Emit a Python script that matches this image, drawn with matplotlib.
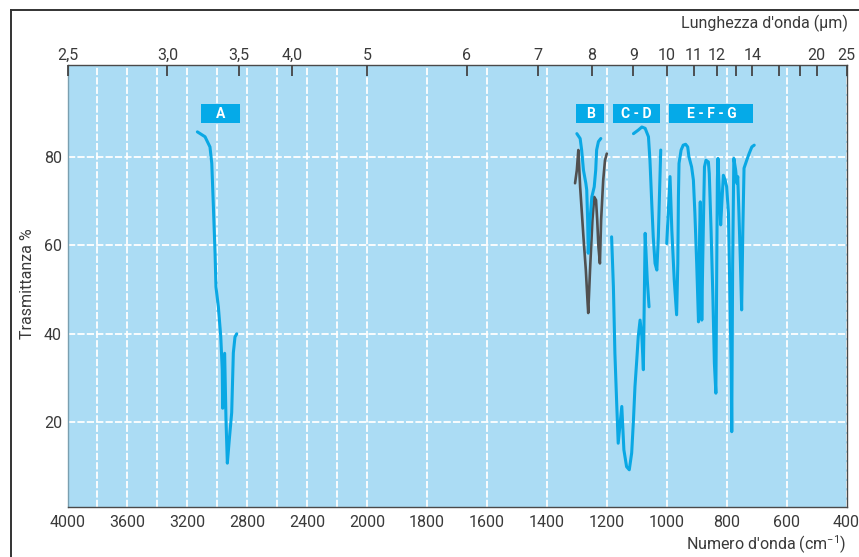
import numpy as np
import matplotlib
matplotlib.use("Agg")
import matplotlib.pyplot as plt
from matplotlib.patches import Rectangle
from matplotlib.lines import Line2D
from matplotlib.ticker import FixedLocator, NullFormatter

FONT = ['Roboto', 'DejaVu Sans']
plt.rcParams['font.family'] = FONT
plt.rcParams['mathtext.fontset'] = 'custom'
plt.rcParams['mathtext.rm'] = 'Roboto'
plt.rcParams['mathtext.default'] = 'rm'

BG = '#abdcf4'
BLUE = '#0aa8e4'
GRAY = '#505050'
TXT = '#3a3a3a'
FS = 11.5

# --- data: wavenumber (cm-1) vs transmittance (%) ---
a_wn = [3133, 3082, 3049, 3037, 3027, 3015, 3009, 2993, 2977, 2967, 2964,
        2951, 2942, 2933, 2920, 2904, 2893, 2882, 2870]
a_t = [85.6, 84.5, 82.2, 78.5, 69.5, 58.2, 50.6, 46.1, 39.4, 31.9, 23.2,
       35.6, 20.6, 10.8, 16.1, 22.2, 35.7, 39.3, 40.0]

b_wn = [1300, 1289, 1284, 1278, 1270, 1267, 1264, 1262, 1256, 1250, 1242,
        1237, 1234, 1228, 1220]
b_t = [85.2, 84.1, 81.5, 77.0, 74.0, 72.5, 65.7, 58.2, 65.7, 70.9, 73.2,
       77.0, 81.5, 83.4, 84.1]

bg_wn = [1306, 1300, 1295, 1289, 1278, 1270, 1264, 1262, 1256, 1248, 1242,
         1236, 1232, 1228, 1223, 1219, 1212, 1206, 1200]
bg_t = [74.0, 77.0, 81.5, 73.2, 61.9, 54.4, 46.9, 44.7, 54.4, 65.7, 70.9,
        70.2, 65.7, 59.7, 55.9, 65.7, 74.7, 79.2, 80.7]

c_wn = [1184, 1178, 1173, 1167, 1162, 1150, 1143, 1134, 1125, 1117, 1111,
        1106, 1100, 1095, 1089, 1083, 1078, 1072, 1065, 1059]
c_t = [61.9, 50.6, 35.6, 24.3, 15.3, 23.6, 13.8, 10.0, 9.3, 13.1, 20.6,
       28.1, 34.1, 39.4, 43.1, 39.4, 31.9, 62.7, 52.2, 46.1]

d_wn = [1111, 1095, 1083, 1072, 1061, 1056, 1050, 1045, 1039, 1033, 1028,
        1025, 1020]
d_t = [85.2, 86.0, 86.7, 86.4, 84.5, 79.2, 69.5, 61.9, 55.9, 54.4, 61.9,
       69.5, 81.5]

e_wn = [1000, 989, 983, 975, 967, 963, 961, 959, 952, 945, 937, 930, 926,
        917, 911, 906, 900, 894, 890, 888, 885, 883, 880, 876, 874, 869,
        861, 858, 852, 846, 841, 836, 833, 831, 829, 824, 820, 815, 811,
        805, 800, 794, 789, 785, 783, 780, 776, 770, 766, 763, 759, 754,
        750, 746, 742, 733, 725, 716, 708]
e_t = [60.4, 75.5, 63.4, 52.2, 44.3, 55.9, 70.9, 78.5, 81.5, 82.6, 82.8,
       82.2, 80.0, 77.7, 74.7, 67.2, 55.9, 42.7, 63.4, 69.8, 55.9, 43.1,
       55.9, 70.9, 77.7, 79.2, 78.8, 76.2, 63.4, 48.4, 33.4, 26.6, 55.9,
       74.7, 79.6, 70.9, 64.6, 70.9, 75.8, 74.7, 73.2, 67.2, 48.4, 33.4,
       17.9, 55.9, 79.6, 77.0, 74.0, 75.5, 67.2, 55.9, 45.4, 63.4, 77.4,
       79.2, 80.7, 82.2, 82.6]

bottom_ticks = [4000, 3600, 3200, 2800, 2400, 2000, 1800, 1600, 1400, 1200,
                1000, 800, 600, 400]
minor_grid = [3800, 3400, 3000, 2600, 2200]
y_ticks = [20, 40, 60, 80]
top_um = [2.5, 3.0, 3.5, 4.0, 5, 6, 7, 8, 9, 10, 11, 12, 14, 20, 25]
top_um_labels = ['2,5', '3,0', '3,5', '4,0', '5', '6', '7', '8', '9', '10',
                 '11', '12', '14', '20', '25']
top_um_minor = [13, 16, 18]

band_labels = ['A', 'B', 'C - D', 'E - F - G']
band_spans = [(3109, 2848), (1303, 1208), (1178, 1022), (991, 711)]


def fwd(w):
    w = np.asarray(w, dtype=float)
    return np.where(w >= 2000, w, 2 * w - 2000)


def inv(v):
    v = np.asarray(v, dtype=float)
    return np.where(v >= 2000, v, (v + 2000) / 2)


fig = plt.figure(figsize=(8.59, 5.57), dpi=100)
ax = fig.add_axes([67.5 / 859, 1 - 507 / 557, 779 / 859, 442 / 557])
ax.set_xscale('function', functions=(fwd, inv))
ax.set_xlim(4000, 400)
ax.set_ylim(0.9, 100.7)
ax.set_facecolor(BG)

ax.xaxis.set_major_locator(FixedLocator(bottom_ticks))
ax.xaxis.set_minor_locator(FixedLocator(minor_grid))
ax.xaxis.set_minor_formatter(NullFormatter())
ax.set_xticklabels([str(t) for t in bottom_ticks])
ax.set_yticks(y_ticks)
ax.tick_params(axis='both', which='both', length=0, labelsize=FS,
               labelcolor=TXT)
ax.tick_params(axis='x', pad=6)
ax.tick_params(axis='y', pad=4)
ax.grid(True, which='both', color='white', linestyle=(0, (4, 1.2)),
        linewidth=1.3)
ax.set_axisbelow(True)
for s in ax.spines.values():
    s.set_color('#4a4a4a')
    s.set_linewidth(1.0)
ax.spines['left'].set_color('#7a9fb0')

ax.plot(a_wn, a_t, color=BLUE, lw=2.2, solid_capstyle='round')
ax.plot(bg_wn, bg_t, color=GRAY, lw=1.9, solid_capstyle='round')
ax.plot(b_wn, b_t, color=BLUE, lw=2.2, solid_capstyle='round')
ax.plot(c_wn, c_t, color=BLUE, lw=2.2, solid_capstyle='round')
ax.plot(d_wn, d_t, color=BLUE, lw=2.2, solid_capstyle='round')
ax.plot(e_wn, e_t, color=BLUE, lw=2.2, solid_capstyle='round')

for lab, (w0, w1) in zip(band_labels, band_spans):
    ax.add_patch(Rectangle((w0, 87.5), w1 - w0, 4.3, facecolor='#05aae8',
                           edgecolor='none', zorder=3))
    xm = inv((fwd(w0) + fwd(w1)) / 2)
    ax.text(float(xm), 89.65, lab, color='white', fontsize=10,
            fontweight='bold', ha='center', va='center', zorder=4)

ax2 = ax.twiny()
ax2.set_xscale('function', functions=(fwd, inv))
ax2.set_xlim(4000, 400)
ax2.set_xticks([1e4 / u for u in top_um])
ax2.set_xticklabels(top_um_labels)
ax2.set_xticks([1e4 / u for u in top_um_minor], minor=True)
ax2.xaxis.set_minor_formatter(NullFormatter())
ax2.tick_params(axis='x', which='both', direction='in', length=8, width=1.3,
                color='#444444', labelsize=FS, labelcolor=TXT, pad=1.5)
for s in ax2.spines.values():
    s.set_visible(False)

fig.text(848 / 859, 1 - 23 / 557, "Lunghezza d'onda (\u03bcm)", ha='right',
         va='center', fontsize=FS, color=TXT)
fig.text(846 / 859, 1 - 545 / 557, "Numero d'onda (cm$^{-1}$)", ha='right',
         va='center', fontsize=FS, color=TXT)
fig.text(28 / 859, 1 - 284 / 557, "Trasmittanza %", rotation=90, ha='center',
         va='center', fontsize=FS, color=TXT)

# frame around the whole figure (cut at right/bottom in the original)
fig.add_artist(Line2D([11 / 859, 1.0], [1 - 10 / 557] * 2,
                      transform=fig.transFigure, color='#333333', lw=1.4))
fig.add_artist(Line2D([11 / 859] * 2, [0.0, 1 - 10 / 557],
                      transform=fig.transFigure, color='#333333', lw=1.4))

fig.savefig('out.png', dpi=100, facecolor='white')
